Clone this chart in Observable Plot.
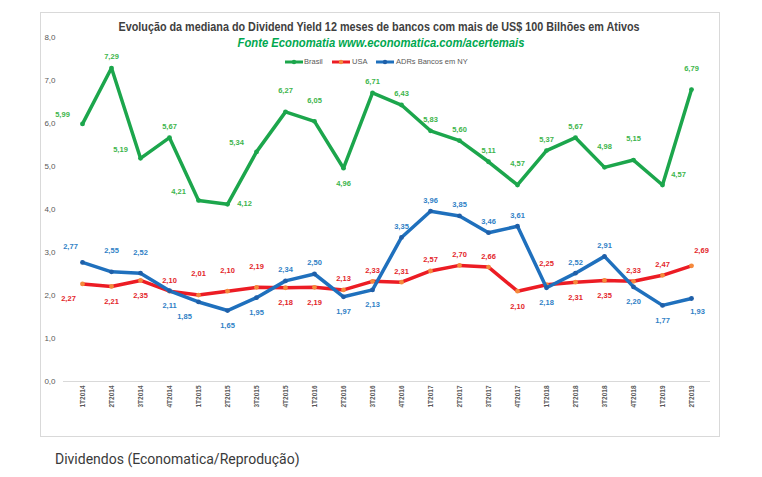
<!DOCTYPE html>
<html><head><meta charset="utf-8">
<script src="https://cdn.jsdelivr.net/npm/d3@7"></script>
<script src="https://cdn.jsdelivr.net/npm/@observablehq/plot@0.6"></script>
<style>
body{margin:0;background:#fff;width:762px;height:477px;overflow:hidden;position:relative;}
#chart{position:absolute;left:0;top:0;}
#caption{position:absolute;left:55px;top:451px;font:14px Roboto, sans-serif;color:#3a3a3a;}
</style></head><body>
<div id="chart"></div>
<div id="caption">Dividendos (Economatica/Reprodução)</div>
<script>
const quarters = ["1T2014","2T2014","3T2014","4T2014","1T2015","2T2015","3T2015","4T2015","1T2016","2T2016","3T2016","4T2016","1T2017","2T2017","3T2017","4T2017","1T2018","2T2018","3T2018","4T2018","1T2019","2T2019"];
const brasil = [5.99,7.29,5.19,5.67,4.21,4.12,5.34,6.27,6.05,4.96,6.71,6.43,5.83,5.60,5.11,4.57,5.37,5.67,4.98,5.15,4.57,6.79];
const usa = [2.27,2.21,2.35,2.10,2.01,2.10,2.19,2.18,2.19,2.13,2.33,2.31,2.57,2.70,2.66,2.10,2.25,2.31,2.35,2.33,2.47,2.69];
const adrs = [2.77,2.55,2.52,2.11,1.85,1.65,1.95,2.34,2.50,1.97,2.13,3.35,3.96,3.85,3.46,3.61,2.18,2.52,2.91,2.20,1.77,1.93];
const seriesNames = ["Brasil","USA","ADRs Bancos em NY"];
const yTicks = [0,1,2,3,4,5,6,7,8];
const titleText = "Evolução da mediana do Dividend Yield 12 meses de bancos com mais de US$ 100 Bilhões em Ativos";
const subtitleText = "Fonte Economatia www.economatica.com/acertemais";

// label placement codes (presentation only)
const brasilLabelPos = ["L","t","L","t","L","R","L","T","T","b","t","t","t","t","t","T","t","t","T","T","RU","T"];
const usaLabelPos = ["BL","b","b","t","T","T","T","b","b","t","t","t","t","t","t","b","T","b","b","t","t","TR"];
const adrsLabelPos = ["TL","T","T","b","BL","b","b","t","t","b","b","t","t","t","t","t","b","t","t","b","b","BR"];
const offsets = {t:[0,-11], T:[0,-21], b:[0,15], L:[-20,-9], R:[17,-1], RU:[16,-10], BL:[-14,15], TL:[-12,-16], TR:[10,-15], BR:[6,13]};

const styles = {
  "Brasil": {line:"#1ca64c", dot:"#1ca64c", label:"#3db54b"},
  "USA": {line:"#ec1c24", dot:"#f58a3c", label:"#e3262b"},
  "ADRs Bancos em NY": {line:"#1f70bd", dot:"#1f5fa8", label:"#2f7fc6"}
};

const rows = (name, vals, pos) => vals.map((v,i) => ({series:name, q:quarters[i], v, pos:pos[i]}));
const series = [
  rows(seriesNames[0], brasil, brasilLabelPos),
  rows(seriesNames[1], usa, usaLabelPos),
  rows(seriesNames[2], adrs, adrsLabelPos)
];
const fmt = v => v.toFixed(2).replace(".", ",");

const marks = [
  Plot.ruleY([0], {stroke:"#d9d9d9", strokeWidth:1}),
  Plot.axisY({ticks:yTicks, tickSize:0, tickPadding:8, tickFormat:d => d.toFixed(1).replace(".", ","), fontSize:8, fill:"#595959", label:null}),
  Plot.axisX({tickSize:0, tickPadding:4, tickRotate:-90, fontSize:6.5, fontWeight:"bold", fill:"#595959", label:null})
];
for (const data of series) {
  const st = styles[data[0].series];
  marks.push(Plot.line(data, {x:"q", y:"v", stroke:st.line, strokeWidth:3.5, curve:"linear"}));
  marks.push(Plot.dot(data, {x:"q", y:"v", r:2.4, fill:st.dot, stroke:"none"}));
}
for (const data of series) {
  const st = styles[data[0].series];
  for (const [k,[dx,dy]] of Object.entries(offsets)) {
    const sub = data.filter(d => d.pos === k);
    if (!sub.length) continue;
    marks.push(Plot.text(sub, {x:"q", y:"v", text:d => fmt(d.v), dx, dy, fill:st.label, fontSize:7.5, fontWeight:"bold"}));
  }
}

const chart = Plot.plot({
  width:762, height:477,
  marginLeft:63, marginRight:52, marginTop:37, marginBottom:96,
  style:{fontFamily:"'Liberation Sans', Arial, sans-serif", background:"transparent"},
  x:{type:"point", domain:quarters, padding:0.5, axis:null},
  y:{domain:[0,8], axis:null},
  marks
});
document.getElementById("chart").appendChild(chart);

const svg = d3.select(chart);
svg.insert("rect", ":first-child").attr("x",40.5).attr("y",12.5).attr("width",679).attr("height",424)
  .attr("fill","none").attr("stroke","#d9d9d9");
svg.append("text").attr("x",379).attr("y",28).attr("text-anchor","middle").attr("dominant-baseline","middle")
  .attr("textLength",521).attr("lengthAdjust","spacingAndGlyphs")
  .attr("font-size",13).attr("font-weight","bold").attr("fill","#404040").text(titleText);
svg.append("text").attr("x",381).attr("y",44).attr("text-anchor","middle").attr("dominant-baseline","middle")
  .attr("textLength",287).attr("lengthAdjust","spacingAndGlyphs")
  .attr("font-size",13).attr("font-weight","bold").attr("font-style","italic").attr("fill","#00a850").text(subtitleText);
const legendItems = [
  {name:seriesNames[0], x:285, tx:304},
  {name:seriesNames[1], x:332, tx:352},
  {name:seriesNames[2], x:376, tx:396}
];
const lg = svg.append("g").attr("text-anchor","start");
for (const it of legendItems) {
  const st = styles[it.name];
  lg.append("line").attr("x1",it.x).attr("x2",it.x+18).attr("y1",62).attr("y2",62).attr("stroke",st.line).attr("stroke-width",3);
  lg.append("circle").attr("cx",it.x+9).attr("cy",62).attr("r",2.2).attr("fill",st.dot);
  lg.append("text").attr("x",it.tx).attr("y",62).attr("text-anchor","start").attr("dominant-baseline","middle").attr("font-size",7.5).attr("fill","#595959").text(it.name);
}
</script>
</body></html>
